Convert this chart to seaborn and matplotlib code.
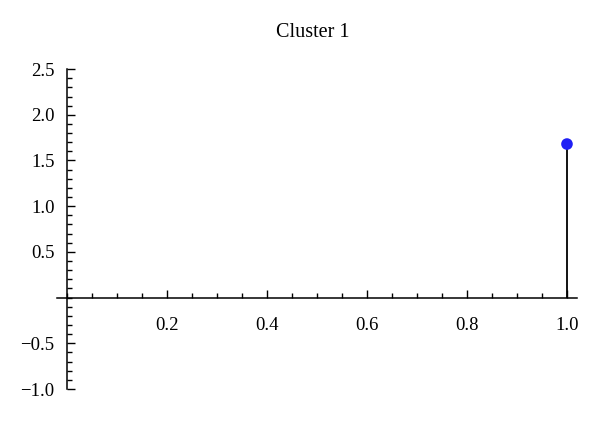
import numpy as np
import matplotlib
matplotlib.use("Agg")
import matplotlib.pyplot as plt
from matplotlib.ticker import MultipleLocator, FixedLocator
import seaborn as sns

# data
cluster_x = [1.0]
cluster_y = [1.68]
title = "Cluster 1"
x_ticks = [0.2, 0.4, 0.6, 0.8, 1.0]
y_ticks = [-1.0, -0.5, 0.5, 1.0, 1.5, 2.0, 2.5]

sns.set_style("white")
plt.rcParams["font.family"] = ["Liberation Serif", "DejaVu Serif"]
plt.rcParams["axes.unicode_minus"] = True

fig = plt.figure(figsize=(6.0, 4.23), dpi=100)
ax = fig.add_axes([0.095, 0.0695, 0.8708, 0.778])

# stem + dot
ax.vlines(cluster_x, 0, cluster_y, color="black", lw=1.3, zorder=2)
sns.scatterplot(x=cluster_x, y=cluster_y, ax=ax, color="#1f1ff5", s=70,
                edgecolor="none", zorder=3, clip_on=False)

ax.set_xlim(-0.02, 1.025)
ax.set_ylim(-1.05, 2.55)

# axes through the origin
for side in ["top", "right"]:
    ax.spines[side].set_visible(False)
ax.spines["left"].set_position(("data", 0))
ax.spines["bottom"].set_position(("data", 0))
ax.spines["left"].set_bounds(-1.0, 2.5)
ax.spines["bottom"].set_bounds(-0.02, 1.02)
for side in ["left", "bottom"]:
    ax.spines[side].set_color("black")
    ax.spines[side].set_linewidth(1.1)

ax.xaxis.set_major_locator(FixedLocator(x_ticks))
ax.yaxis.set_major_locator(FixedLocator(y_ticks))
ax.xaxis.set_minor_locator(MultipleLocator(0.05))
ax.yaxis.set_minor_locator(MultipleLocator(0.1))
ax.set_xticklabels([f"{v:.1f}" for v in x_ticks])
ax.set_yticklabels([f"{v:.1f}".replace("-", "\u2212") for v in y_ticks])

ax.tick_params(which="both", direction="in", color="black", width=1.0,
               bottom=True, left=True, top=False, right=False,
               labelsize=13.5, labelcolor="black")
ax.tick_params(which="major", length=6)
ax.tick_params(which="minor", length=3.5)
ax.tick_params(axis="y", which="major", pad=9)
ax.tick_params(axis="x", which="major", pad=14)

fig.text(0.522, 0.922, title, ha="center", va="center", fontsize=14.5,
         color="black")

fig.savefig("out.png", dpi=100)
